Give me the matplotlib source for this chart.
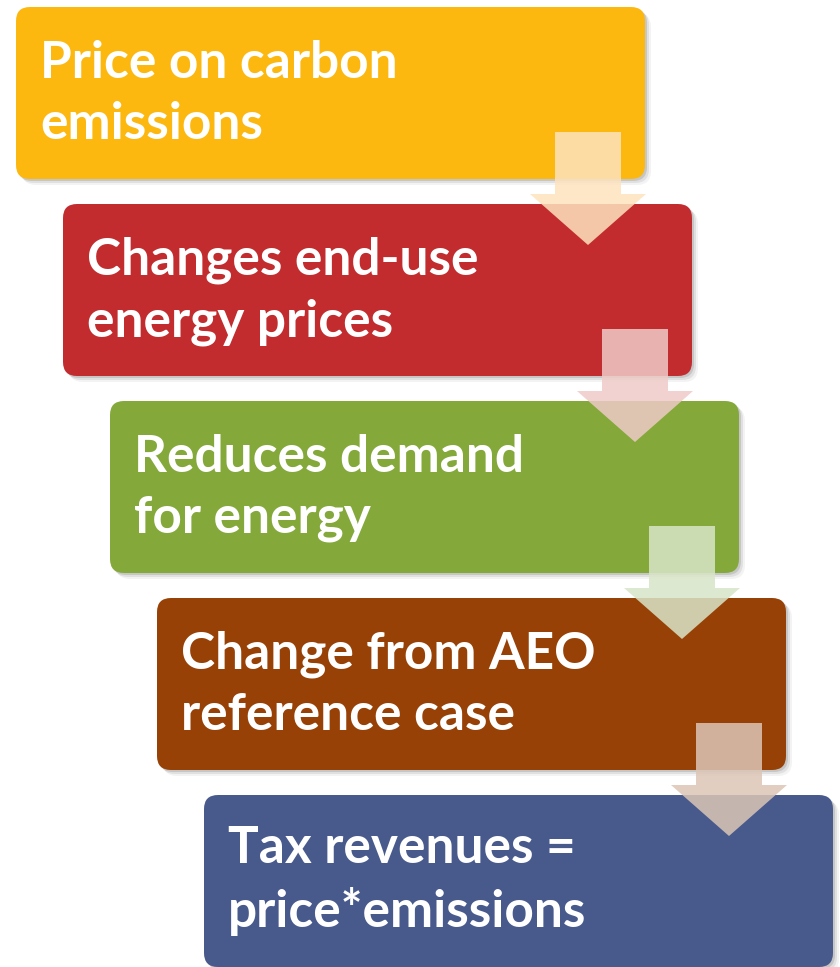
import matplotlib.pyplot as plt
from matplotlib.patches import FancyBboxPatch, Polygon

# steps of the process, top to bottom
steps = [
    "Price on carbon\nemissions",
    "Changes end-use\nenergy prices",
    "Reduces demand\nfor energy",
    "Change from AEO\nreference case",
    "Tax revenues =\nprice*emissions",
]
box_colors = ["#FDB80F", "#C22C2F", "#84A93A", "#974106", "#48598C"]
arrow_colors = ["#FEE3BE", "#EFCBC8", "#D8E5C8", "#DCC6B6"]

W, H = 840, 967
fig = plt.figure(figsize=(W / 100, H / 100), dpi=100)
ax = fig.add_axes([0, 0, 1, 1])
ax.set_xlim(0, W)
ax.set_ylim(H, 0)
ax.axis("off")

x0, y0 = 16, 7
dx, dy = 47, 197
bw, bh = 629, 172
rad = 14

for i, (label, col) in enumerate(zip(steps, box_colors)):
    x = x0 + i * dx
    y = y0 + i * dy
    # soft drop shadow
    for k, a in [(6, 0.06), (4, 0.10), (2, 0.16)]:
        ax.add_patch(FancyBboxPatch((x + rad + k, y + rad + k), bw - 2 * rad, bh - 2 * rad,
                                    boxstyle=f"round,pad={rad}", fc="#404040", ec="none",
                                    alpha=a, zorder=1 + i * 3))
    ax.add_patch(FancyBboxPatch((x + rad, y + rad), bw - 2 * rad, bh - 2 * rad,
                                boxstyle=f"round,pad={rad}", fc=col, ec="none",
                                zorder=2 + i * 3))
    # va=baseline anchors the last line
    ax.text(x + 24, y + 132, label, color="white", fontsize=37, fontweight="bold",
            family="Lato", va="baseline", ha="left", linespacing=1.37,
            zorder=2 + i * 3 + 0.5)

# down arrows between steps, drawn over both boxes
for i, col in enumerate(arrow_colors):
    cx = 588 + i * dx
    top = 132 + i * dy
    base = 194 + i * dy
    tip = 245 + i * dy
    pts = [(cx - 33, top), (cx + 33, top), (cx + 33, base), (cx + 58, base),
           (cx, tip), (cx - 58, base), (cx - 33, base)]
    ax.add_patch(Polygon(pts, closed=True, fc=col, ec="none", alpha=0.85,
                         zorder=2 + (i + 1) * 3 + 1))

fig.savefig("out.png", dpi=100, facecolor="white")
